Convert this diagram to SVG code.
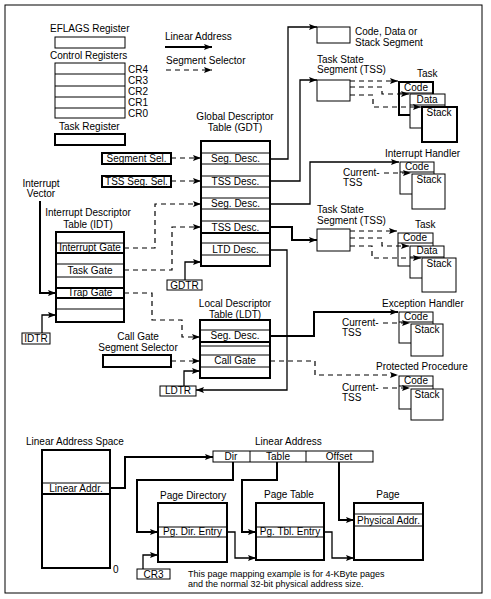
<svg xmlns="http://www.w3.org/2000/svg" width="491" height="599" viewBox="0 0 491 599">
<style>
.t{font-family:"Liberation Sans",Arial,sans-serif;font-size:10px;fill:#000}
.s{font-size:9px}
.m{text-anchor:middle}
.b{fill:#fff;stroke:#000;stroke-width:1}
.k{fill:#fff;stroke:#000;stroke-width:2}
.l{stroke:#000;stroke-width:1;fill:none}
.lk{stroke:#000;stroke-width:2;fill:none}
.c{stroke:#000;stroke-width:1.3;fill:none;marker-end:url(#a)}
.ck{stroke:#000;stroke-width:2;fill:none;marker-end:url(#a)}
.d{stroke:#000;stroke-width:1.2;fill:none;stroke-dasharray:5 4;marker-end:url(#a)}
</style>
<defs>
<marker id="a" markerWidth="9" markerHeight="7" refX="8" refY="3.5" orient="auto" markerUnits="userSpaceOnUse"><path d="M0,0.5 L8,3.5 L0,6.5 L1.5,3.5z" fill="#000"/></marker>
</defs>
<rect x="5" y="5" width="477" height="588" fill="#fff" stroke="#000" stroke-width="1"/>

<g id="eflags">
<text class="t" x="50" y="32">EFLAGS Register</text>
<rect class="b" x="55" y="37" width="70" height="11"/>
</g>
<g id="control-registers">
<text class="t" x="50" y="59">Control Registers</text>
<rect class="b" x="55" y="63" width="70" height="55"/>
<path class="l" d="M55,74H125M55,86H125M55,97H125M55,108H125"/>
<text class="t" x="128" y="73">CR4</text>
<text class="t" x="128" y="84">CR3</text>
<text class="t" x="128" y="95">CR2</text>
<text class="t" x="128" y="106">CR1</text>
<text class="t" x="128" y="117">CR0</text>
</g>
<g id="task-register">
<text class="t" x="59" y="130">Task Register</text>
<rect class="k" x="55" y="134" width="70" height="11"/>
</g>
<g id="legend">
<text class="t" x="165" y="40">Linear Address</text>
<path class="ck" d="M165,47H212"/>
<text class="t" x="166" y="64">Segment Selector</text>
<path class="d" d="M166,70H212"/>
</g>

<g id="gdt">
<text class="t m" x="235" y="120">Global Descriptor</text>
<text class="t m" x="235" y="131">Table (GDT)</text>
<rect class="k" x="201" y="141" width="69" height="125"/>
<path class="l" d="M201,153H270M201,164H270M201,176H270M201,187H270M201,198H270M201,209H270M201,221H270M201,243H270M201,255H270"/>
<path class="lk" d="M201,233H270"/>
<text class="t m" x="235.5" y="162">Seg. Desc.</text>
<text class="t m" x="235.5" y="185">TSS Desc.</text>
<text class="t m" x="235.5" y="207">Seg. Desc.</text>
<text class="t m" x="235.5" y="231">TSS Desc.</text>
<text class="t m" x="235.5" y="253">LTD Desc.</text>
</g>
<g id="segment-sel">
<rect class="k" x="102" y="153" width="69" height="11"/>
<text class="t m" x="136.5" y="162">Segment Sel.</text>
</g>
<g id="tss-seg-sel">
<rect class="k" x="102" y="176" width="69" height="11"/>
<text class="t m" x="136.5" y="185">TSS Seg. Sel.</text>
</g>
<g id="gdtr">
<rect class="b" x="167" y="280" width="35" height="10"/>
<text class="t m" x="184.5" y="289">GDTR</text>
</g>

<g id="interrupt-vector">
<text class="t m" x="41" y="187">Interrupt</text>
<text class="t m" x="41" y="197">Vector</text>
</g>
<g id="idt">
<text class="t m" x="88" y="216">Interrupt Descriptor</text>
<text class="t m" x="88" y="228">Table (IDT)</text>
<rect class="k" x="56" y="232" width="68" height="90"/>
<path class="l" d="M56,243H124M56,264H124M56,277H124M56,309H124"/>
<path class="lk" d="M56,253H124M56,288H124M56,298H124"/>
<text class="t m" x="90" y="251">Interrupt Gate</text>
<text class="t m" x="90" y="274">Task Gate</text>
<text class="t m" x="90" y="296">Trap Gate</text>
</g>
<g id="idtr">
<rect class="b" x="22" y="333" width="28" height="11"/>
<text class="t m" x="36" y="342">IDTR</text>
</g>

<g id="ldt">
<text class="t m" x="235" y="307">Local Descriptor</text>
<text class="t m" x="235" y="318">Table (LDT)</text>
<rect class="k" x="200" y="320" width="70" height="58"/>
<path class="l" d="M200,330H270M200,346H270M200,355H270M200,367H270"/>
<path class="lk" d="M200,342H270"/>
<text class="t m" x="235" y="339">Seg. Desc.</text>
<text class="t m" x="235" y="364">Call Gate</text>
</g>
<g id="call-gate-selector">
<text class="t m" x="138" y="340">Call Gate</text>
<text class="t m" x="138" y="351">Segment Selector</text>
<rect class="k" x="103" y="355" width="68" height="12"/>
</g>
<g id="ldtr">
<rect class="b" x="160" y="386" width="36" height="10"/>
<text class="t m" x="178" y="394">LDTR</text>
</g>

<g id="code-data-stack-segment">
<rect class="b" x="317" y="27" width="33" height="16"/>
<text class="t" x="355" y="35">Code, Data or</text>
<text class="t" x="355" y="46">Stack Segment</text>
</g>
<g id="tss-top">
<text class="t" x="317" y="63">Task State</text>
<text class="t" x="317" y="73">Segment (TSS)</text>
<rect class="b" x="317" y="80" width="33" height="21"/>
</g>
<g id="task-top">
<text class="t" x="417" y="77">Task</text>
<rect class="k" x="399" y="82" width="34" height="33"/>
<path class="l" d="M399,93H433"/>
<text class="t m" x="416" y="91">Code</text>
<rect class="b" x="410" y="94" width="35" height="34"/>
<path class="l" d="M410,105H445"/>
<text class="t m" x="427" y="103">Data</text>
<rect class="k" x="422" y="107" width="35" height="35"/>
<text class="t m" x="439" y="116">Stack</text>
</g>

<g id="interrupt-handler">
<text class="t" x="385" y="157">Interrupt Handler</text>
<rect class="b" x="400" y="162" width="34" height="32"/>
<path class="l" d="M400,172H434"/>
<text class="t m" x="417" y="170">Code</text>
<rect class="b" x="412" y="174" width="33" height="35"/>
<text class="t m" x="429" y="183">Stack</text>
<text class="t" x="343" y="176">Current-</text>
<text class="t" x="343" y="186">TSS</text>
</g>
<g id="tss-middle">
<text class="t" x="317" y="213">Task State</text>
<text class="t" x="317" y="224">Segment (TSS)</text>
<rect class="b" x="317" y="229" width="33" height="22"/>
</g>
<g id="task-middle">
<text class="t" x="415" y="228">Task</text>
<rect class="b" x="398" y="233" width="35" height="33"/>
<path class="l" d="M398,243H433"/>
<text class="t m" x="415" y="241">Code</text>
<rect class="b" x="410" y="246" width="34" height="32"/>
<path class="l" d="M410,257H444"/>
<text class="t m" x="427" y="254">Data</text>
<rect class="b" x="422" y="258" width="34" height="34"/>
<text class="t m" x="439" y="267">Stack</text>
</g>
<g id="exception-handler">
<text class="t" x="382" y="307">Exception Handler</text>
<rect class="b" x="399" y="312" width="34" height="31"/>
<path class="l" d="M399,322H433"/>
<text class="t m" x="416" y="320">Code</text>
<rect class="b" x="411" y="324" width="32" height="32"/>
<text class="t m" x="427" y="333">Stack</text>
<text class="t" x="342" y="326">Current-</text>
<text class="t" x="342" y="336">TSS</text>
</g>
<g id="protected-procedure">
<text class="t" x="376" y="370">Protected Procedure</text>
<rect class="b" x="399" y="376" width="34" height="33"/>
<path class="l" d="M399,386H433"/>
<text class="t m" x="416" y="384">Code</text>
<rect class="b" x="411" y="389" width="32" height="31"/>
<text class="t m" x="427" y="398">Stack</text>
<text class="t" x="342" y="391">Current-</text>
<text class="t" x="342" y="401">TSS</text>
</g>

<g id="linear-address-space">
<text class="t" x="26" y="445">Linear Address Space</text>
<rect class="k" x="42" y="450" width="68" height="118"/>
<path class="l" d="M42,483H110"/>
<path class="lk" d="M42,494H110"/>
<text class="t m" x="76" y="492">Linear Addr.</text>
<text class="t" x="113" y="573">0</text>
</g>
<g id="linear-address">
<text class="t" x="255" y="445">Linear Address</text>
<rect class="b" x="213" y="451" width="160" height="11"/>
<path class="l" d="M250,451V462M306,451V462"/>
<text class="t m" x="231" y="460">Dir</text>
<text class="t m" x="278" y="460">Table</text>
<text class="t m" x="339" y="460">Offset</text>
</g>
<g id="page-directory">
<text class="t" x="160" y="499">Page Directory</text>
<rect class="k" x="158" y="503" width="69" height="59"/>
<path class="l" d="M158,527H227M158,537H227"/>
<text class="t m" x="192.5" y="535">Pg. Dir. Entry</text>
</g>
<g id="cr3">
<rect class="b" x="137" y="569" width="33" height="10"/>
<text class="t m" x="153.5" y="578">CR3</text>
</g>
<g id="page-table">
<text class="t" x="264" y="498">Page Table</text>
<rect class="k" x="256" y="503" width="68" height="57"/>
<path class="l" d="M256,527H324M256,537H324"/>
<text class="t m" x="290" y="535">Pg. Tbl. Entry</text>
</g>
<g id="page">
<text class="t m" x="388" y="498">Page</text>
<rect class="k" x="354" y="503" width="69" height="57"/>
<path class="l" d="M354,514H423M354,526H423"/>
<text class="t m" x="388.5" y="524">Physical Addr.</text>
</g>
<g id="note">
<text class="t s" x="188" y="577">This page mapping example is for 4-KByte pages</text>
<text class="t s" x="188" y="587">and the normal 32-bit physical address size.</text>
</g>

<g id="connectors">
<path class="d" d="M171,158H201"/>
<path class="d" d="M171,181H201"/>
<path class="ck" d="M40,201V293H56"/>
<path class="c" d="M42,333V315H56"/>
<path class="d" d="M124,248H155V204H201"/>
<path class="d" d="M124,270H172V227H201"/>
<path class="d" d="M124,293H152V320H182V337H200"/>
<path class="c" d="M185,280V262H201"/>
<path class="d" d="M171,361H200"/>
<path class="c" d="M184,386V371H200"/>
<path class="c" d="M270,250H287V390H196"/>
<path class="c" d="M270,159H288V27H317"/>
<path class="c" d="M270,181H300V80H317"/>
<path class="d" d="M350,81H398"/>
<path class="d" d="M350,87H382V94H409"/>
<path class="d" d="M350,95H373V107H421"/>
<path class="c" d="M270,204H310V162H399"/>
<path class="d" d="M384,173H411"/>
<path class="ck" d="M270,227H292V240H317"/>
<path class="d" d="M350,231H397"/>
<path class="d" d="M350,238H382V246H409"/>
<path class="d" d="M350,246H372V258H421"/>
<path class="ck" d="M270,336H314V312H398"/>
<path class="d" d="M383,323H410"/>
<path class="d" d="M270,361H315V375H398"/>
<path class="d" d="M383,388H410"/>
<path class="ck" d="M110,488H125V457H213"/>
<path class="ck" d="M233,462V480H137V532H158"/>
<path class="c" d="M143,569V555H158"/>
<path class="ck" d="M277,462V480H242V532H256"/>
<path class="c" d="M227,532H235V558H256"/>
<path class="c" d="M324,532H332V558H354"/>
<path class="ck" d="M339,462V520H354"/>
</g>
</svg>
